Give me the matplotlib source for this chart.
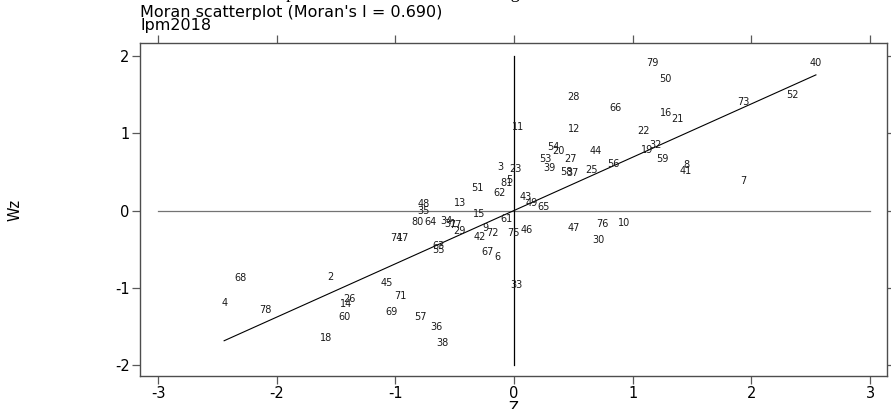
import matplotlib
matplotlib.use("Agg")
import matplotlib.pyplot as plt
import numpy as np

plt.rcParams["font.family"] = ["DejaVu Sans"]
plt.rcParams["axes.unicode_minus"] = False

# region ids, standardised value z and spatial lag Wz
ids = [79, 50, 40, 52, 73, 16, 21, 22, 32, 19, 59, 8, 41, 7, 66, 28, 11, 12,
       54, 20, 53, 27, 44, 56, 3, 23, 39, 58, 37, 25, 5, 81, 51, 62, 43, 49,
       65, 15, 61, 9, 42, 72, 75, 46, 47, 76, 10, 30, 67, 6, 33, 48, 35, 13,
       80, 64, 34, 31, 77, 29, 74, 17, 63, 55, 68, 4, 78, 2, 26, 14, 60, 18,
       45, 71, 69, 57, 36, 38]
z = [1.163, 1.272, 2.544, 2.342, 1.929, 1.281, 1.373, 1.087, 1.196, 1.120,
     1.247, 1.449, 1.449, 1.929, 0.859, 0.497, 0.034, 0.505, 0.329, 0.371,
     0.261, 0.472, 0.691, 0.834, -0.118, 0.008, 0.295, 0.438, 0.489, 0.657,
     -0.042, -0.067, -0.312, -0.126, 0.101, 0.152, 0.253, -0.295, -0.067,
     -0.244, -0.286, -0.185, -0.008, 0.110, 0.505, 0.741, 0.927, 0.708,
     -0.227, -0.143, 0.017, -0.758, -0.767, -0.455, -0.817, -0.708, -0.573,
     -0.539, -0.497, -0.463, -0.994, -0.935, -0.640, -0.640, -2.308, -2.443,
     -2.098, -1.550, -1.390, -1.415, -1.432, -1.584, -1.070, -0.960, -1.036,
     -0.792, -0.657, -0.607]
wz = [1.903, 1.696, 1.903, 1.489, 1.398, 1.256, 1.178, 1.023, 0.854, 0.777,
      0.673, 0.595, 0.505, 0.388, 1.333, 1.463, 1.087, 1.049, 0.828, 0.764,
      0.673, 0.673, 0.764, 0.608, 0.557, 0.531, 0.544, 0.492, 0.479, 0.518,
      0.401, 0.350, 0.285, 0.233, 0.181, 0.091, 0.039, -0.039, -0.104,
      -0.220, -0.337, -0.285, -0.285, -0.246, -0.220, -0.181, -0.168, -0.388,
      -0.531, -0.608, -0.958, 0.078, 0.000, 0.091, -0.155, -0.155, -0.142,
      -0.181, -0.194, -0.259, -0.362, -0.362, -0.453, -0.505, -0.880, -1.191,
      -1.294, -0.867, -1.139, -1.204, -1.372, -1.644, -0.932, -1.113, -1.320,
      -1.372, -1.502, -1.709]
moran_i = 0.690
var_name = "lpm2018"

fig = plt.figure(figsize=(8.91, 4.09), dpi=100)
ax = fig.add_axes([140 / 891, 1 - 376 / 409, 747 / 891, 333 / 409])

for i, x, y in zip(ids, z, wz):
    ax.text(x, y, str(i), ha="center", va="center", fontsize=7, color="0.1")

ax.plot([-3, 3], [0, 0], color="0.45", lw=0.9)
ax.plot([0, 0], [-2, 2], color="black", lw=0.9)
xs = np.array([min(z), max(z)])
ax.plot(xs, moran_i * xs, color="black", lw=0.8)

ax.set_xlim(-3.152, 3.143)
ax.set_ylim(-2.142, 2.168)
ax.set_xticks(range(-3, 4))
ax.set_yticks(range(-2, 3))
ax.tick_params(direction="out", length=5.5, width=0.9, color="0.35",
               labelsize=10.5, top=True, right=True, pad=2)
for s in ax.spines.values():
    s.set_color("0.3")
    s.set_linewidth(1.0)

ax.set_xlabel("Z", fontsize=10.5, labelpad=0)
fig.text(15 / 891, 1 - 210 / 409, "Wz", rotation=90, ha="center",
         va="center", fontsize=10.5)

fig.text(140 / 891, 1 - 17 / 409, f"Moran scatterplot (Moran's I = {moran_i:.3f})",
         fontsize=11.5, ha="left", va="baseline")
fig.text(140 / 891, 1 - 30 / 409, var_name, fontsize=11.5, ha="left",
         va="baseline")
# clipped main heading above the figure
fig.text(276 / 891, 1 + 2 / 409, "Spatial autocorrelation of housing",
         fontsize=13, family="Liberation Serif", ha="left", va="baseline")

fig.savefig("out.png", dpi=100)
